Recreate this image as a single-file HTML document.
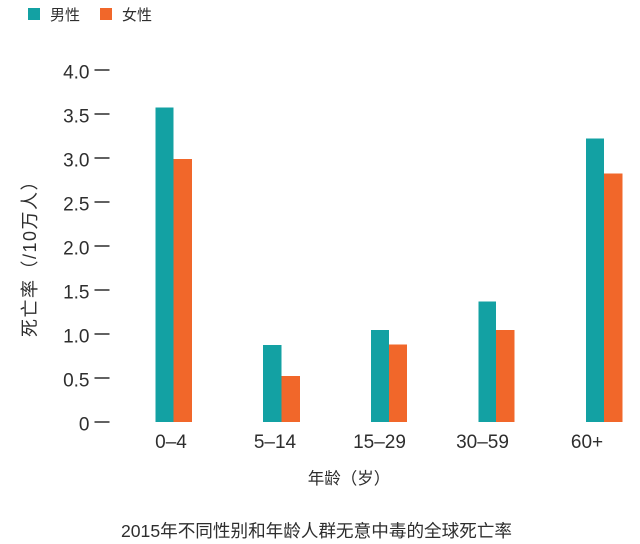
<!DOCTYPE html>
<html><head><meta charset="utf-8"><style>
html,body{margin:0;padding:0;background:#fff;}
svg{display:block;}
text{font-family:"Liberation Sans","Noto Sans CJK SC",sans-serif;fill:#2e2e2e;}
</style></head><body>
<svg width="640" height="544" viewBox="0 0 640 544" xmlns="http://www.w3.org/2000/svg">
<rect width="640" height="544" fill="#fff"/>
<!-- legend -->
<rect x="28" y="8" width="12" height="12" fill="#13a1a3"/>
<text x="50" y="20" font-size="15">男性</text>
<rect x="100" y="8" width="12" height="12" fill="#f1672a"/>
<text x="122" y="20" font-size="15">女性</text>
<!-- y ticks -->
<g font-size="19" text-anchor="end">
<text x="89.5" y="78.5">4.0</text>
<text x="89.5" y="122.5">3.5</text>
<text x="89.5" y="166.5">3.0</text>
<text x="89.5" y="210.5">2.5</text>
<text x="89.5" y="254.5">2.0</text>
<text x="89.5" y="298.5">1.5</text>
<text x="89.5" y="342.5">1.0</text>
<text x="89.5" y="386.5">0.5</text>
<text x="89.5" y="430.5">0</text>
</g>
<g stroke="#3a3a3a" stroke-width="1.6">
<line x1="94.5" x2="109.5" y1="70" y2="70"/>
<line x1="94.5" x2="109.5" y1="114" y2="114"/>
<line x1="94.5" x2="109.5" y1="158" y2="158"/>
<line x1="94.5" x2="109.5" y1="202" y2="202"/>
<line x1="94.5" x2="109.5" y1="246" y2="246"/>
<line x1="94.5" x2="109.5" y1="290" y2="290"/>
<line x1="94.5" x2="109.5" y1="334" y2="334"/>
<line x1="94.5" x2="109.5" y1="378" y2="378"/>
<line x1="94.5" x2="109.5" y1="422" y2="422"/>
</g>
<!-- y label -->
<text transform="translate(36,254) rotate(-90)" font-size="18" text-anchor="middle" letter-spacing="1.5">死亡率（/10万人）</text>
<!-- bars -->
<g fill="#13a1a3">
<rect x="155.5" y="107.5" width="18" height="314.5"/>
<rect x="263" y="345" width="18.5" height="77"/>
<rect x="371" y="330" width="18" height="92"/>
<rect x="478.5" y="301.5" width="17.5" height="120.5"/>
<rect x="586" y="138.5" width="18" height="283.5"/>
</g>
<g fill="#f1672a">
<rect x="173.5" y="159" width="18.5" height="263"/>
<rect x="281.5" y="376" width="18.5" height="46"/>
<rect x="389" y="344.5" width="18" height="77.5"/>
<rect x="496" y="330" width="18.5" height="92"/>
<rect x="604" y="173.5" width="18.5" height="248.5"/>
</g>
<!-- x labels -->
<g font-size="19" text-anchor="middle">
<text x="171" y="448">0–4</text>
<text x="275" y="448">5–14</text>
<text x="379.5" y="448">15–29</text>
<text x="482.5" y="448">30–59</text>
<text x="587" y="448">60+</text>
</g>
<text x="349" y="484" font-size="16.5" text-anchor="middle">年龄（岁）</text>
<text x="316.5" y="537" font-size="17.6" text-anchor="middle">2015年不同性别和年龄人群无意中毒的全球死亡率</text>
</svg>
</body></html>
